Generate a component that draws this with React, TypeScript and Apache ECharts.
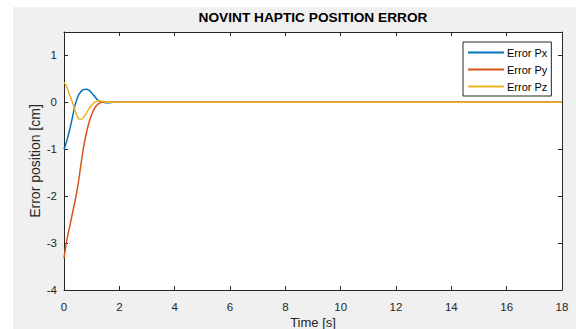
import React, { useEffect, useRef } from "react";
import * as echarts from "echarts";

const time = [0, 0.05, 0.1, 0.2, 0.3, 0.4, 0.5, 0.6, 0.7, 0.8, 0.9, 1.0, 1.1, 1.2, 1.3, 1.4, 1.5, 1.6, 1.8, 2.0, 18];
const errorPx = [-1, -0.92, -0.82, -0.6, -0.33, -0.06, 0.12, 0.22, 0.27, 0.28, 0.26, 0.2, 0.13, 0.06, 0.02, 0.0, -0.01, -0.01, 0, 0, 0];
const errorPy = [-3.32, -3.12, -2.94, -2.66, -2.38, -2.1, -1.78, -1.38, -0.98, -0.68, -0.44, -0.26, -0.13, -0.05, -0.01, 0.01, 0.01, 0.0, 0, 0, 0];
const errorPz = [0.43, 0.39, 0.33, 0.16, 0.01, -0.17, -0.32, -0.36, -0.33, -0.24, -0.14, -0.06, 0.0, 0.03, 0.03, 0.02, 0.01, 0.0, 0, 0, 0];
const seriesNames = ["Error Px", "Error Py", "Error Pz"];
const colors = ["#0072BD", "#D95319", "#EDB120"];

const FONT = "Liberation Sans";
const AX = "#262626";

export default function App() {
  const ref = useRef<HTMLDivElement>(null);
  useEffect(() => {
    document.body.style.margin = "0";
    const chart = echarts.init(ref.current!, null, { renderer: "svg" });
    const values = [errorPx, errorPy, errorPz];
    const axisCommon = {
      axisLine: { show: true, onZero: false, lineStyle: { color: AX, width: 1 } },
      axisTick: { show: true, inside: true, length: 4, lineStyle: { color: AX } },
      splitLine: { show: false },
    };
    chart.setOption({
      animation: false,
      backgroundColor: "#ffffff",
      textStyle: { fontFamily: FONT },
      graphic: [
        { type: "rect", z: -10, silent: true, shape: { x: 13, y: 7, width: 563, height: 322 }, style: { fill: "#f0f0f0" } },
        {
          type: "text",
          x: 313,
          y: 17,
          style: { text: "NOVINT HAPTIC POSITION ERROR", font: `bold 13.7px ${FONT}`, fill: "#000", textAlign: "center", textVerticalAlign: "middle" },
        },
      ],
      grid: {
        left: 64,
        top: 32,
        right: 14,
        bottom: 39,
        show: true,
        backgroundColor: "#ffffff",
        borderWidth: 0,
        containLabel: false,
        outerBoundsMode: "none",
      },
      legend: {
        orient: "vertical",
        left: 463,
        top: 42,
        data: seriesNames,
        icon: "rect",
        itemWidth: 36,
        itemHeight: 2,
        itemGap: 6,
        padding: [5, 4, 4, 5],
        backgroundColor: "#ffffff",
        borderColor: AX,
        borderWidth: 1,
        borderRadius: 0,
        textStyle: { fontFamily: FONT, fontSize: 11, color: "#000", padding: [0, 0, 0, -2] },
      },
      xAxis: [
        {
          type: "value",
          min: 0,
          max: 18,
          interval: 2,
          position: "bottom",
          name: "Time [s]",
          nameLocation: "middle",
          nameGap: 26,
          nameMoveOverlap: false,
          nameTextStyle: { fontFamily: FONT, fontSize: 13, color: AX },
          axisLabel: { color: AX, fontFamily: FONT, fontSize: 11.5, margin: 11 },
          ...axisCommon,
        },
        {
          type: "value",
          min: 0,
          max: 18,
          interval: 2,
          position: "top",
          axisLabel: { show: false },
          ...axisCommon,
        },
      ],
      yAxis: [
        {
          type: "value",
          min: -4,
          max: 1.5,
          interval: 1,
          position: "left",
          name: "Error position [cm]",
          nameLocation: "middle",
          nameGap: 22,
          nameMoveOverlap: false,
          nameTextStyle: { fontFamily: FONT, fontSize: 14, color: AX },
          axisLabel: {
            color: AX,
            fontFamily: FONT,
            fontSize: 11.5,
            margin: 7,
            formatter: (v: number) => (Number.isInteger(v) ? String(v) : ""),
          },
          ...axisCommon,
        },
        {
          type: "value",
          min: -4,
          max: 1.5,
          interval: 1,
          position: "right",
          axisLabel: { show: false },
          ...axisCommon,
        },
      ],
      series: values.map((vals, i) => ({
        name: seriesNames[i],
        type: "line",
        xAxisIndex: 0,
        yAxisIndex: 0,
        showSymbol: false,
        symbol: "none",
        smooth: 0.3,
        data: time.map((t, j) => [t, vals[j]]),
        itemStyle: { color: colors[i] },
        lineStyle: { color: colors[i], width: 1.5 },
      })),
    });
    return () => chart.dispose();
  }, []);
  return <div ref={ref} style={{ position: "absolute", left: 0, top: 0, width: 576, height: 329 }} />;
}
